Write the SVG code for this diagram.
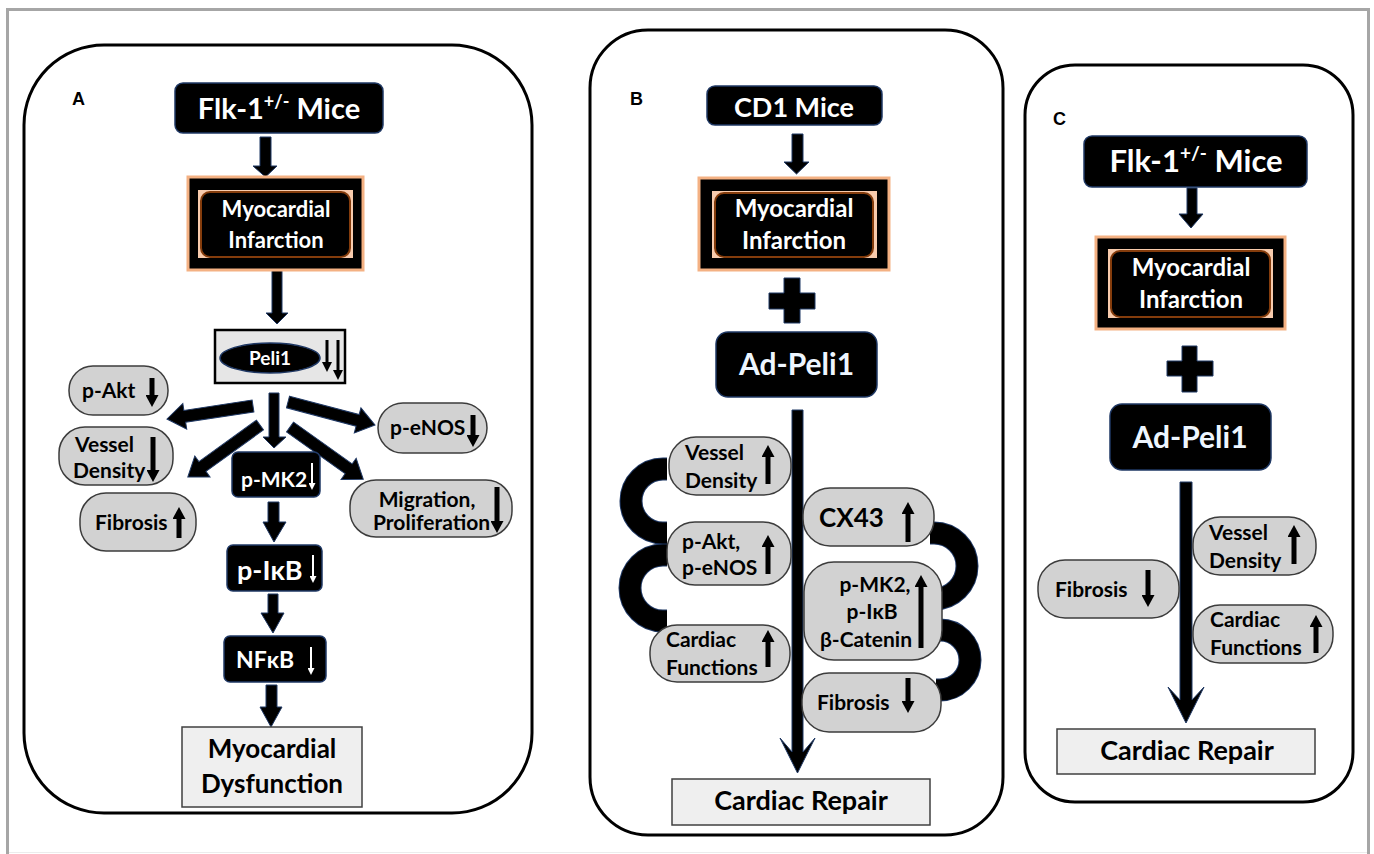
<svg xmlns="http://www.w3.org/2000/svg" width="1374" height="854" viewBox="0 0 1374 854">
  <defs>
    <style>
      .panel { fill: #fff; stroke: #000; stroke-width: 3; }
      .blk { fill: #000; stroke: #1f3864; stroke-width: 1.5; }
      .pill { fill: #d2d2d2; stroke: #3c3c3c; stroke-width: 1.5; }
      .out { fill: #efefef; stroke: #404040; stroke-width: 1.5; }
      .arr { fill: #000; stroke: #1f3864; stroke-width: 1; }
      .t { font-family: Lato, "Open Sans", "DejaVu Sans", sans-serif; font-weight: 700; }
      .lbl { font-family: "Liberation Sans", Arial, sans-serif; font-weight: 700; font-size: 18px; fill: #000; }
      .w { fill: #fff; }
      .lb { fill: #eef6ff; }
      .k { fill: #000; }
      .ptx { font-size: 21px; }
      .tk { stroke: #000; stroke-width: 5; fill: none; }
      .tw { stroke: #fff; stroke-width: 2; fill: none; }
      .tp { stroke: #000; stroke-width: 3; fill: none; }
      .ring-o { fill: none; stroke: #1f3864; stroke-width: 23; }
      .ring { fill: none; stroke: #000; stroke-width: 21; }
    </style>
    <marker id="hk" markerUnits="userSpaceOnUse" markerWidth="12" markerHeight="13" viewBox="0 0 12 13" refX="1" refY="6.5" orient="auto">
      <path d="M0,0 L12,6.5 L0,13 z" fill="#000"/>
    </marker>
    <marker id="hp" markerUnits="userSpaceOnUse" markerWidth="10" markerHeight="10" viewBox="0 0 10 10" refX="1" refY="5" orient="auto">
      <path d="M0,0 L10,5 L0,10 z" fill="#000"/>
    </marker>
    <marker id="hw" markerUnits="userSpaceOnUse" markerWidth="7" markerHeight="7" viewBox="0 0 7 7" refX="1" refY="3.5" orient="auto">
      <path d="M0,0 L7,3.5 L0,7 z" fill="#fff"/>
    </marker>
  </defs>

  <!-- outer frame -->
  <path d="M7.5,854 V9.5 H1368.5 V854" fill="none" stroke="#a6a6a6" stroke-width="3"/>
  <line x1="9" y1="852.5" x2="1367" y2="852.5" stroke="#ececec" stroke-width="1"/>

  <!-- panels -->
  <g id="panel-a"><rect class="panel" x="24" y="45" width="508" height="768" rx="80"/><text class="lbl" x="72" y="105">A</text></g>
  <g id="panel-b"><rect class="panel" x="590" y="30" width="413" height="805" rx="58"/><text class="lbl" x="630" y="105">B</text></g>
  <g id="panel-c"><rect class="panel" x="1025" y="65" width="328" height="737" rx="50"/><text class="lbl" x="1053" y="125">C</text></g>

  <!-- connectors -->
  <g id="connectors">
    <!-- panel A vertical flow -->
    <path class="arr" d="M260,137 H271 V166 H277 L265.5,177 L253,166 H260 Z"/>
    <path class="arr" d="M272,270 H282 V313 H288 L277,324 L266,313 H272 Z"/>
    <path class="arr" d="M269,393 H279 V437 H286 L274,448 L263,437 H269 Z"/>
    <path class="arr" d="M268,502 H279 V522 H286 L274,542 L263,522 H268 Z"/>
    <path class="arr" d="M268,594 H278 V613 H284 L273,633 L261,613 H268 Z"/>
    <path class="arr" d="M266,685 H277 V707 H282 L271,727 L260,707 H266 Z"/>
    <!-- panel A fan out of Peli1 -->
    <path class="arr" transform="translate(253,406) rotate(171.4)" d="M0,-6 H69 V-13 L87,0 L69,13 V6 H0 Z"/>
    <path class="arr" transform="translate(260,425) rotate(144.2)" d="M0,-6 H71 V-13 L89,0 L71,13 V6 H0 Z"/>
    <path class="arr" transform="translate(288,402) rotate(14.8)" d="M0,-6 H72 V-13 L90,0 L72,13 V6 H0 Z"/>
    <path class="arr" transform="translate(290,427) rotate(35.5)" d="M0,-6 H72 V-13 L90,0 L72,13 V6 H0 Z"/>

    <!-- panel B -->
    <path class="arr" d="M792,134 H803 V162 H809 L796.5,174 L784,162 H792 Z"/>
    <path class="arr" d="M784,278 H800 V293 H815 V309 H800 V323 H784 V309 H769 V293 H784 Z"/>
    <path class="arr" d="M792,410 H803 V752 L815,738 L797.5,773 L780,738 L792,752 Z"/>
    <!-- linking bands -->
    <path class="ring-o" d="M667,469 H663 A32,32 0 0 0 663,533 H667"/>
    <path class="ring-o" d="M667,555 H663 A33,33 0 0 0 663,621 H667"/>
    <path class="ring-o" d="M930,533 H934 A33,33 0 0 1 934,599 H930"/>
    <path class="ring-o" d="M936,630 H940 A30,30 0 0 1 940,690 H936"/>
    <path class="ring" d="M667,469 H663 A32,32 0 0 0 663,533 H667"/>
    <path class="ring" d="M667,555 H663 A33,33 0 0 0 663,621 H667"/>
    <path class="ring" d="M930,533 H934 A33,33 0 0 1 934,599 H930"/>
    <path class="ring" d="M936,630 H940 A30,30 0 0 1 940,690 H936"/>

    <!-- panel C -->
    <path class="arr" d="M1187,188 H1197 V214 H1203 L1191,228 L1179,214 H1187 Z"/>
    <path class="arr" d="M1182,346 H1197 V361 H1213 V376 H1197 V392 H1182 V376 H1167 V361 H1182 Z"/>
    <path class="arr" d="M1180,482 H1192 V700 L1204,687 L1186,723 L1168,687 L1180,700 Z"/>
  </g>

  <!-- ===== Panel A nodes ===== -->
  <g id="a-flk">
    <rect class="blk" x="175" y="83" width="208" height="50" rx="8"/>
    <text class="t w" x="279" y="119" font-size="29" text-anchor="middle">Flk-1<tspan font-size="18" dy="-11">+/-</tspan><tspan dy="11"> Mice</tspan></text>
  </g>
  <g id="a-mi">
    <rect x="188" y="177" width="175" height="93" fill="#000" stroke="#f4b183" stroke-width="3"/>
    <rect x="198" y="190" width="155" height="68" fill="#f8cbad"/>
    <rect x="201" y="192" width="149" height="65" rx="9" fill="#000" stroke="#843c0c" stroke-width="2"/>
    <text class="t w" x="276" y="217" font-size="22" text-anchor="middle">Myocardial</text>
    <text class="t w" x="276" y="248" font-size="22" text-anchor="middle">Infarction</text>
  </g>
  <g id="a-peli1">
    <rect x="215" y="330" width="130" height="53" fill="#e6e6e6" stroke="#000" stroke-width="2.5"/>
    <ellipse cx="270" cy="358" rx="50" ry="15" fill="#000" stroke="#1f3864" stroke-width="1.5"/>
    <text class="t w" x="270" y="364.5" font-size="19" text-anchor="middle">Peli1</text>
    <line class="tp" x1="327" y1="340" x2="327" y2="363" marker-end="url(#hp)"/>
    <line class="tp" x1="338" y1="340" x2="338" y2="371" marker-end="url(#hp)"/>
  </g>
  <g id="a-pakt">
    <rect class="pill" x="69" y="366" width="99" height="49" rx="24"/>
    <text class="t k ptx" x="82" y="398">p-Akt</text>
    <line class="tk" x1="152" y1="378" x2="152" y2="396" marker-end="url(#hk)"/>
  </g>
  <g id="a-vessel">
    <rect class="pill" x="59" y="427" width="114" height="58" rx="26"/>
    <text class="t k ptx" x="75" y="452">Vessel</text>
    <text class="t k ptx" x="73" y="478">Density</text>
    <line class="tk" x1="153" y1="437" x2="153" y2="471" marker-end="url(#hk)"/>
  </g>
  <g id="a-fibrosis">
    <rect class="pill" x="80" y="493" width="116" height="58" rx="26"/>
    <text class="t k ptx" x="95" y="530">Fibrosis</text>
    <line class="tk" x1="179" y1="538" x2="179" y2="518" marker-end="url(#hk)"/>
  </g>
  <g id="a-penos">
    <rect class="pill" x="378" y="403" width="109" height="50" rx="25"/>
    <text class="t k ptx" x="390" y="435">p-eNOS</text>
    <line class="tk" x1="473" y1="415" x2="473" y2="436" marker-end="url(#hk)"/>
  </g>
  <g id="a-migration">
    <rect class="pill" x="350" y="480" width="162" height="57" rx="26"/>
    <text class="t k ptx" x="427" y="507" text-anchor="middle">Migration,</text>
    <text class="t k ptx" x="373" y="530">Proliferation</text>
    <line class="tk" x1="497" y1="487" x2="497" y2="522" marker-end="url(#hk)"/>
  </g>
  <g id="a-pmk2">
    <rect class="blk" x="232" y="452" width="88" height="45" rx="6"/>
    <text class="t w" x="241" y="487" font-size="21">p-MK2</text>
    <line class="tw" x1="312" y1="463" x2="312" y2="484" marker-end="url(#hw)"/>
  </g>
  <g id="a-pikb">
    <rect class="blk" x="227" y="545" width="95" height="46" rx="6"/>
    <text class="t w" x="237" y="580" font-size="27">p-IκB</text>
    <line class="tw" x1="313" y1="555" x2="313" y2="577" marker-end="url(#hw)"/>
  </g>
  <g id="a-nfkb">
    <rect class="blk" x="224" y="636" width="102" height="46" rx="6"/>
    <text class="t w" x="236" y="668" font-size="23">NFκB</text>
    <line class="tw" x1="311" y1="647" x2="311" y2="669" marker-end="url(#hw)"/>
  </g>
  <g id="a-dysfunction">
    <rect class="out" x="182" y="727" width="180" height="80"/>
    <text class="t k" x="272" y="758" font-size="26" text-anchor="middle">Myocardial</text>
    <text class="t k" x="272" y="793" font-size="26" text-anchor="middle">Dysfunction</text>
  </g>

  <!-- ===== Panel B nodes ===== -->
  <g id="b-cd1">
    <rect class="blk" x="707" y="86" width="175" height="39" rx="8"/>
    <text class="t w" x="794" y="117" font-size="27" text-anchor="middle">CD1 Mice</text>
  </g>
  <g id="b-mi">
    <rect x="699" y="178" width="190" height="92" fill="#000" stroke="#f4b183" stroke-width="3"/>
    <rect x="712" y="191" width="165" height="67" fill="#f8cbad"/>
    <rect x="715" y="193" width="158" height="64" rx="9" fill="#000" stroke="#843c0c" stroke-width="2"/>
    <text class="t w" x="794" y="217" font-size="24" text-anchor="middle">Myocardial</text>
    <text class="t w" x="794" y="249" font-size="24" text-anchor="middle">Infarction</text>
  </g>
  <g id="b-adpeli1">
    <rect class="blk" x="716" y="332" width="161" height="65" rx="12"/>
    <text class="t lb" x="796.5" y="375" font-size="30" text-anchor="middle">Ad-Peli1</text>
  </g>
  <g id="b-vessel">
    <rect class="pill" x="669" y="437" width="122" height="58" rx="27"/>
    <text class="t k ptx" x="685" y="460">Vessel</text>
    <text class="t k ptx" x="685" y="488">Density</text>
    <line class="tk" x1="768" y1="484" x2="768" y2="456" marker-end="url(#hk)"/>
  </g>
  <g id="b-pakt">
    <rect class="pill" x="667" y="522" width="124" height="63" rx="28"/>
    <text class="t k ptx" x="682" y="549">p-Akt,</text>
    <text class="t k ptx" x="682" y="575">p-eNOS</text>
    <line class="tk" x1="768" y1="574" x2="768" y2="546" marker-end="url(#hk)"/>
  </g>
  <g id="b-cardiac">
    <rect class="pill" x="650" y="625" width="140" height="57" rx="27"/>
    <text class="t k ptx" x="666" y="647">Cardiac</text>
    <text class="t k ptx" x="666" y="675">Functions</text>
    <line class="tk" x1="768" y1="667" x2="768" y2="641" marker-end="url(#hk)"/>
  </g>
  <g id="b-cx43">
    <rect class="pill" x="803" y="488" width="131" height="58" rx="27"/>
    <text class="t k" x="819" y="527" font-size="26">CX43</text>
    <line class="tk" x1="908" y1="542" x2="908" y2="513" marker-end="url(#hk)"/>
  </g>
  <g id="b-pmk2">
    <rect class="pill" x="804" y="562" width="138" height="98" rx="30"/>
    <text class="t k ptx" x="875" y="592" text-anchor="middle">p-MK2,</text>
    <text class="t k ptx" x="872" y="619" text-anchor="middle">p-IκB</text>
    <text class="t k ptx" x="866" y="647" text-anchor="middle">β-Catenin</text>
    <line class="tk" x1="921" y1="648" x2="921" y2="586" marker-end="url(#hk)"/>
  </g>
  <g id="b-fibrosis">
    <rect class="pill" x="802" y="673" width="139" height="59" rx="27"/>
    <text class="t k ptx" x="817" y="710">Fibrosis</text>
    <line class="tk" x1="908" y1="678" x2="908" y2="702" marker-end="url(#hk)"/>
  </g>
  <g id="b-repair">
    <rect class="out" x="672" y="779" width="258" height="46"/>
    <text class="t k" x="801" y="810" font-size="27" text-anchor="middle">Cardiac Repair</text>
  </g>

  <!-- ===== Panel C nodes ===== -->
  <g id="c-flk">
    <rect class="blk" x="1084" y="136" width="223" height="51" rx="8"/>
    <text class="t w" x="1196" y="172" font-size="31" text-anchor="middle">Flk-1<tspan font-size="19" dy="-12">+/-</tspan><tspan dy="12"> Mice</tspan></text>
  </g>
  <g id="c-mi">
    <rect x="1096" y="237" width="189" height="92" fill="#000" stroke="#f4b183" stroke-width="3"/>
    <rect x="1108" y="249" width="165" height="69" fill="#f8cbad"/>
    <rect x="1111" y="251" width="159" height="66" rx="9" fill="#000" stroke="#843c0c" stroke-width="2"/>
    <text class="t w" x="1191" y="276" font-size="24" text-anchor="middle">Myocardial</text>
    <text class="t w" x="1191" y="308" font-size="24" text-anchor="middle">Infarction</text>
  </g>
  <g id="c-adpeli1">
    <rect class="blk" x="1110" y="404" width="161" height="66" rx="12"/>
    <text class="t lb" x="1190" y="448" font-size="30" text-anchor="middle">Ad-Peli1</text>
  </g>
  <g id="c-vessel">
    <rect class="pill" x="1193" y="517" width="123" height="58" rx="27"/>
    <text class="t k ptx" x="1209" y="540">Vessel</text>
    <text class="t k ptx" x="1209" y="568">Density</text>
    <line class="tk" x1="1294" y1="564" x2="1294" y2="536" marker-end="url(#hk)"/>
  </g>
  <g id="c-fibrosis">
    <rect class="pill" x="1038" y="560" width="141" height="58" rx="27"/>
    <text class="t k ptx" x="1055" y="597">Fibrosis</text>
    <line class="tk" x1="1148" y1="570" x2="1148" y2="596" marker-end="url(#hk)"/>
  </g>
  <g id="c-cardiac">
    <rect class="pill" x="1193" y="605" width="140" height="58" rx="27"/>
    <text class="t k ptx" x="1210" y="627">Cardiac</text>
    <text class="t k ptx" x="1210" y="655">Functions</text>
    <line class="tk" x1="1316" y1="653" x2="1316" y2="626" marker-end="url(#hk)"/>
  </g>
  <g id="c-repair">
    <rect class="out" x="1057" y="729" width="258" height="45"/>
    <text class="t k" x="1187" y="760" font-size="27" text-anchor="middle">Cardiac Repair</text>
  </g>
</svg>
